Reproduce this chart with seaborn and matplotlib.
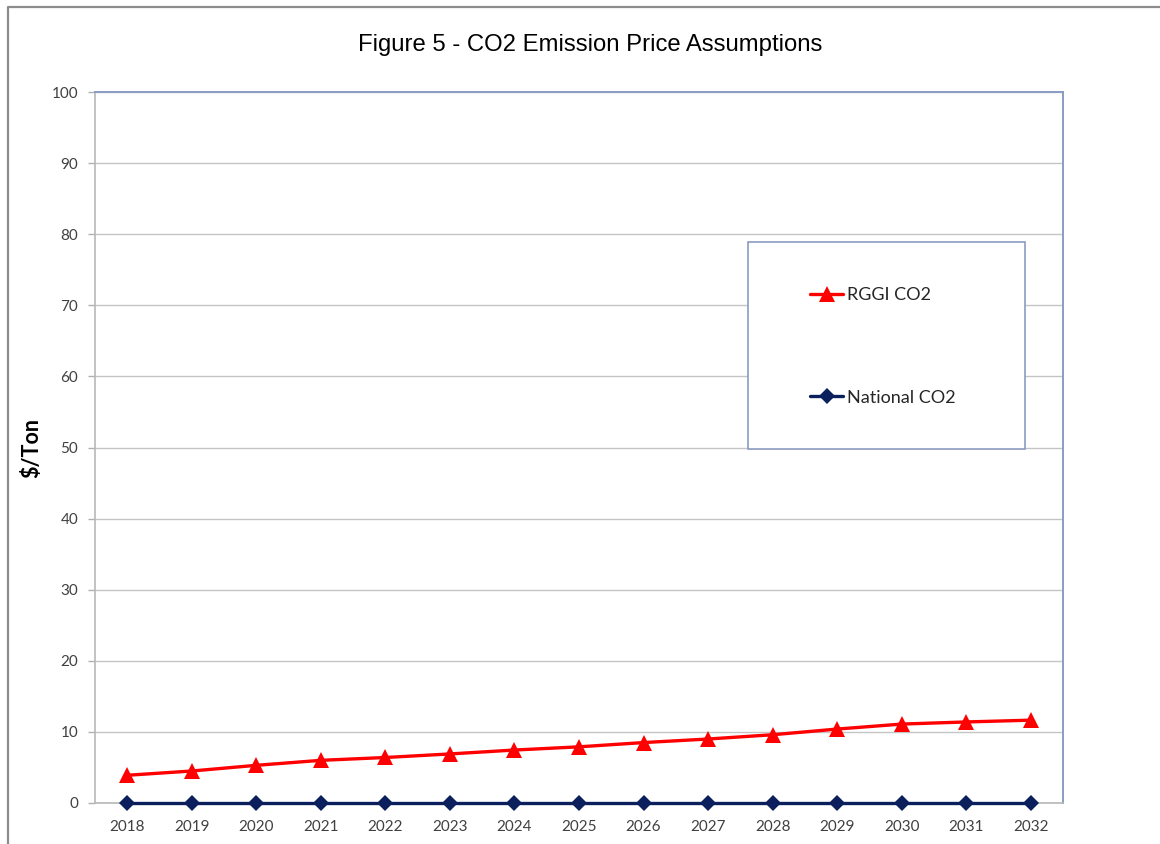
import numpy as np
import pandas as pd
import matplotlib
matplotlib.use("Agg")
import matplotlib.pyplot as plt
from matplotlib.lines import Line2D
from matplotlib.patches import Rectangle
import seaborn as sns

years = ["2018", "2019", "2020", "2021", "2022", "2023", "2024", "2025",
         "2026", "2027", "2028", "2029", "2030", "2031", "2032"]
rggi_co2 = [3.9, 4.5, 5.3, 6.0, 6.4, 6.9, 7.45, 7.9,
            8.5, 9.0, 9.6, 10.4, 11.1, 11.4, 11.65]
national_co2 = [0, 0, 0, 0, 0, 0, 0, 0, 0, 0, 0, 0, 0, 0, 0]
y_ticks = [0, 10, 20, 30, 40, 50, 60, 70, 80, 90, 100]

sns.set_theme(style="white")
plt.rcParams["font.family"] = ["Lato", "DejaVu Sans"]

W, H = 1160, 844
fig = plt.figure(figsize=(W / 100, H / 100), dpi=100)
ax = fig.add_axes([95 / W, 1 - 803 / H, (1063 - 95) / W, (803 - 92) / H])

pos = np.arange(len(years))
df = pd.DataFrame({"pos": np.concatenate([pos, pos]),
                   "price": rggi_co2 + national_co2,
                   "series": ["RGGI CO2"] * len(years) + ["National CO2"] * len(years)})

sns.lineplot(data=df[df.series == "RGGI CO2"], x="pos", y="price", ax=ax,
             color="#ff0000", linewidth=2.4, marker="^", markersize=11,
             markeredgewidth=0, label="RGGI CO2", zorder=4)
sns.lineplot(data=df[df.series == "National CO2"], x="pos", y="price", ax=ax,
             color="#0b1f5c", linewidth=2.4, marker="D", markersize=8,
             markeredgewidth=0, label="National CO2", zorder=4, clip_on=False)

ax.set_xlim(-0.5, len(years) - 0.5)
ax.set_ylim(0, 100)
ax.set_yticks(y_ticks)
ax.set_yticklabels([str(v) for v in y_ticks])
ax.set_xticks(pos)
ax.set_xticklabels(years)
ax.set_xticks(np.arange(len(years) + 1) - 0.5, minor=True)
ax.tick_params(axis="x", which="major", length=0, pad=12, labelsize=11,
               labelcolor="#404040")
ax.tick_params(axis="x", which="minor", length=5, width=1, color="#b0b0b0",
               direction="out")
ax.tick_params(axis="y", length=5, width=1, color="#b0b0b0", direction="out",
               pad=7, labelsize=11, labelcolor="#404040", left=True)
ax.yaxis.grid(True, color="#c4c4c4", linewidth=1)
ax.xaxis.grid(False)
ax.set_axisbelow(True)

for side in ("left", "bottom"):
    ax.spines[side].set_color("#b8b8b8")
    ax.spines[side].set_linewidth(1.2)
for side in ("top", "right"):
    ax.spines[side].set_visible(True)
    ax.spines[side].set_color("#8a9cc4")
    ax.spines[side].set_linewidth(1.4)

ax.set_xlabel("")
ax.set_ylabel("$/Ton", fontsize=15.5, fontweight="bold", color="#000000")
ax.yaxis.set_label_coords((42 - 95) / (1063 - 95), 0.5)

# legend panel: white box over the gridlines, entries placed inside it
box = Rectangle(((748 - 95) / 968, (803 - 449) / 711), (1025 - 748) / 968, (449 - 242) / 711,
                transform=ax.transAxes, facecolor="white", edgecolor="#8a9cc4",
                linewidth=1.2, zorder=5)
ax.add_patch(box)
leg = ax.legend(loc="upper left", bbox_to_anchor=((810 - 95) / 968, (803 - 287) / 711),
                fontsize=13, frameon=False, borderpad=0, borderaxespad=0,
                labelspacing=4.8, handlelength=1.85, handletextpad=0.2)
leg.set_zorder(6)

fig.text(590 / W, 1 - 45 / H, "Figure 5 - CO2 Emission Price Assumptions",
         ha="center", va="center", fontsize=17.2, color="#000000",
         family=["Liberation Sans", "DejaVu Sans"])

fig.add_artist(Line2D([8 / W, 8 / W, 1], [0, 1 - 7 / H, 1 - 7 / H],
                      transform=fig.transFigure, color="#8c8c8c", linewidth=1.6))

fig.savefig("out.png", dpi=100)
